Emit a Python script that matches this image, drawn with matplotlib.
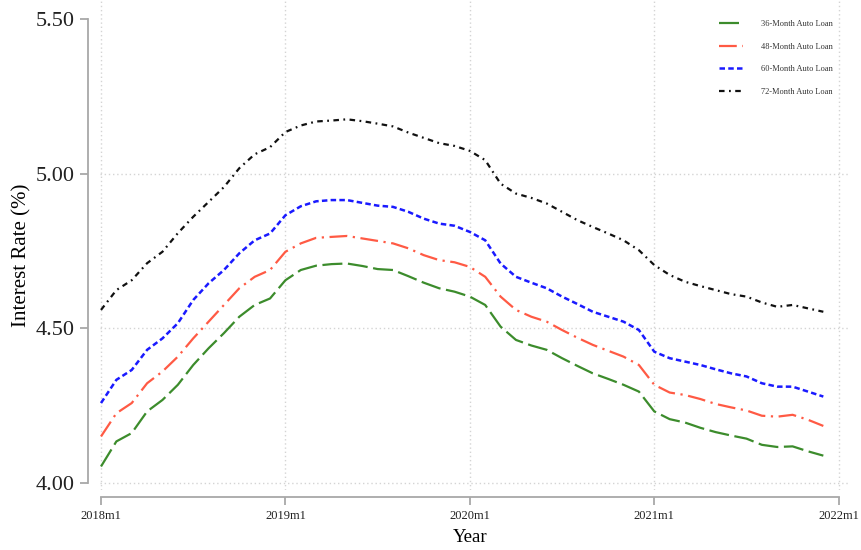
import matplotlib
matplotlib.use("Agg")
import matplotlib.pyplot as plt

plt.rcParams['font.family'] = ['Liberation Serif', 'DejaVu Serif']

# monthly rates, 2018m1 .. 2021m12
rate_36 = [4.054, 4.135, 4.162, 4.232, 4.269, 4.318, 4.382, 4.436, 4.485, 4.538,
           4.576, 4.597, 4.656, 4.689, 4.703, 4.708, 4.710, 4.702, 4.692, 4.689,
           4.669, 4.648, 4.630, 4.619, 4.603, 4.576, 4.506, 4.463, 4.445, 4.431,
           4.404, 4.379, 4.355, 4.337, 4.318, 4.296, 4.232, 4.207, 4.196, 4.179,
           4.165, 4.154, 4.144, 4.124, 4.117, 4.119, 4.103, 4.089]
rate_48 = [4.151, 4.226, 4.259, 4.323, 4.361, 4.409, 4.468, 4.522, 4.576, 4.630,
           4.667, 4.689, 4.748, 4.775, 4.793, 4.796, 4.799, 4.791, 4.783, 4.775,
           4.759, 4.737, 4.721, 4.714, 4.699, 4.667, 4.603, 4.560, 4.538, 4.522,
           4.495, 4.470, 4.447, 4.428, 4.409, 4.382, 4.318, 4.293, 4.285, 4.272,
           4.256, 4.245, 4.235, 4.218, 4.215, 4.221, 4.205, 4.185]
rate_60 = [4.259, 4.334, 4.366, 4.431, 4.468, 4.517, 4.592, 4.646, 4.689, 4.743,
           4.785, 4.807, 4.866, 4.895, 4.911, 4.915, 4.915, 4.906, 4.897, 4.893,
           4.877, 4.855, 4.839, 4.832, 4.812, 4.785, 4.710, 4.667, 4.648, 4.630,
           4.603, 4.579, 4.554, 4.538, 4.522, 4.495, 4.425, 4.404, 4.393, 4.382,
           4.368, 4.355, 4.345, 4.323, 4.312, 4.312, 4.296, 4.280]
rate_72 = [4.560, 4.624, 4.656, 4.711, 4.748, 4.808, 4.861, 4.909, 4.957, 5.018,
           5.063, 5.086, 5.135, 5.156, 5.169, 5.172, 5.176, 5.170, 5.162, 5.153,
           5.133, 5.116, 5.099, 5.090, 5.074, 5.044, 4.968, 4.936, 4.922, 4.904,
           4.877, 4.850, 4.828, 4.807, 4.785, 4.753, 4.705, 4.673, 4.651, 4.637,
           4.624, 4.611, 4.603, 4.584, 4.570, 4.576, 4.565, 4.554]
months = list(range(len(rate_36)))

x_ticks = [0, 12, 24, 36, 48]
x_labels = ['2018m1', '2019m1', '2020m1', '2021m1', '2022m1']
y_ticks = [4.0, 4.5, 5.0, 5.5]
y_labels = ['4.00', '4.50', '5.00', '5.50']

fig = plt.figure(figsize=(8.62, 5.5), dpi=100)
ax = fig.add_axes([100/862, 60/550, 750/862, 490/550])

# grid
for xt in x_ticks:
    ax.axvline(xt, color='#d4d4d4', lw=1, ls=(0, (1, 2)), zorder=0)
for yt in [4.0, 4.5, 5.0]:
    ax.axhline(yt, color='#d4d4d4', lw=1, ls=(0, (1, 2)), zorder=0)

ax.plot(months, rate_36, color='#3c8c2c', lw=1.6, dashes=(9, 2.5), label='36-Month Auto Loan')
ax.plot(months, rate_48, color='#ff5a44', lw=1.6, dashes=(8, 2.5, 1, 2.5), label='48-Month Auto Loan')
ax.plot(months, rate_60, color='#1a1aff', lw=1.8, dashes=(2.2, 1.3), label='60-Month Auto Loan')
ax.plot(months, rate_72, color='#111111', lw=1.6, dashes=(2.5, 2, 0.8, 2), label='72-Month Auto Loan')

ax.set_xlim(-0.065, 48.735)
ax.set_ylim(3.978, 5.5616)

for s in ['top', 'right']:
    ax.spines[s].set_visible(False)
ax.spines['left'].set_position(('outward', 8.5))
ax.spines['left'].set_bounds(4.0, 5.5)
ax.spines['bottom'].set_position(('outward', 5.2))
ax.spines['bottom'].set_bounds(0, 48)
for s in ['left', 'bottom']:
    ax.spines[s].set_color('#a8a8a8')
    ax.spines[s].set_linewidth(1.3)

ax.set_xticks(x_ticks)
ax.set_xticklabels(x_labels, fontsize=9)
ax.set_yticks(y_ticks)
ax.set_yticklabels(y_labels, fontsize=16)
ax.tick_params(axis='both', color='#a8a8a8', width=1.3, length=5.5, pad=4, labelcolor='#222222')

fig.text(22/862, 1 - 255/550, 'Interest Rate (%)', rotation=90, ha='center', va='center', fontsize=15)
fig.text(470/862, 1 - 538/550, 'Year', ha='center', va='center', fontsize=13.5)

leg = ax.legend(loc='upper left', bbox_to_anchor=(719/862, 1 - 20/550), bbox_transform=fig.transFigure,
                frameon=False, fontsize=6, handlelength=2.9, handletextpad=2.2,
                labelspacing=1.75, borderpad=0, borderaxespad=0)
for t in leg.get_texts():
    t.set_color('#333333')

fig.savefig('out.png', dpi=100)
